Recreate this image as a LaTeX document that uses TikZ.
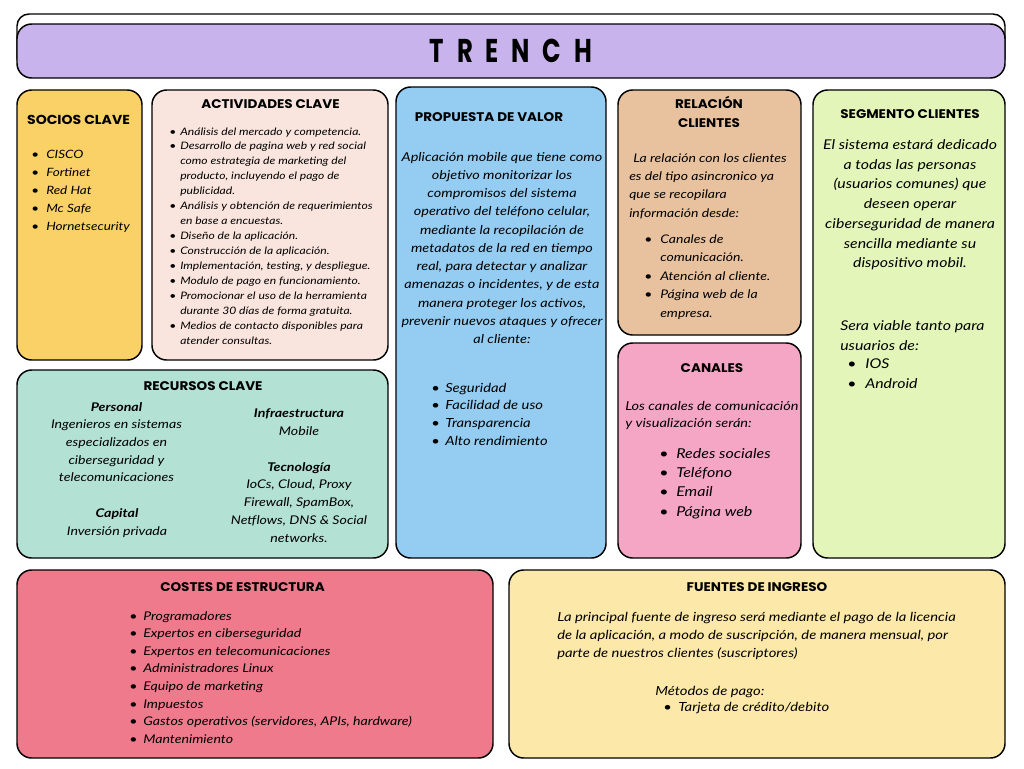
\documentclass[tikz,border=0pt]{standalone}
\usepackage{fontspec}
\usepackage{graphicx}
\setmainfont{Lato}[FakeStretch=1.18]
\newfontfamily\hfont{Poppins}[FakeStretch=1.08]
\newfontfamily\tfont{Poppins}
\definecolor{cpurple}{HTML}{C8B3EC}
\definecolor{csocios}{HTML}{F9D166}
\definecolor{cactiv}{HTML}{F9E5DE}
\definecolor{crecur}{HTML}{B3E1D3}
\definecolor{cprop}{HTML}{94CCF2}
\definecolor{crel}{HTML}{E8C29F}
\definecolor{ccan}{HTML}{F6A6C5}
\definecolor{cseg}{HTML}{E3F5B9}
\definecolor{ccost}{HTML}{EE7A8C}
\definecolor{cfuen}{HTML}{FCE8A8}
\newlength\bulw
\newcommand\mybul{\makebox[\bulw][l]{\textbullet}}
\newcommand\myind{\hspace*{\bulw}}
\newcommand\fsz[2]{\fontsize{#1}{#2}\selectfont}
\begin{document}
\begin{tikzpicture}[x=0.75pt,y=-0.75pt,
  box/.style={draw=black,line width=1.1pt,rounded corners=11pt},
  head/.style={inner sep=0pt,anchor=base,font=\hfont\bfseries\fsz{9.4pt}{14.3pt}},
  lst/.style={inner sep=0pt,anchor=base west},
  ctr/.style={inner sep=0pt,anchor=base}]
\useasboundingbox (0,0) rectangle (1024,768);
% title
\draw[box,fill=white,rounded corners=9pt] (17,14) rectangle (1005,70);
\draw[box,fill=cpurple] (17,24) rectangle (1005,78);
\node[inner sep=0pt,font=\tfont\bfseries\fsz{24.7pt}{25pt}] (title) at (511,51)
  {\scalebox{0.74}[1]{T\hspace{13pt}R\hspace{13pt}E\hspace{13pt}N\hspace{13pt}C\hspace{13pt}H}};
% boxes
\draw[box,fill=csocios] (17,90) rectangle (142,360);
\draw[box,fill=cactiv] (152,90) rectangle (388,360);
\draw[box,fill=crecur] (17,370) rectangle (388,558);
\draw[box,fill=cprop] (396,87) rectangle (606,558);
\draw[box,fill=crel] (618,90) rectangle (801,335);
\draw[box,fill=ccan] (618,343) rectangle (801,558);
\draw[box,fill=cseg] (813,90) rectangle (1005,558);
\draw[box,fill=ccost] (17,570) rectangle (493,758);
\draw[box,fill=cfuen] (509,570) rectangle (1005,758);
% socios
\node[head,font=\hfont\bfseries\fsz{9.75pt}{14pt}] (hsoc) at (78.5,124.5) {SOCIOS CLAVE};
\node[lst,font=\itshape\fsz{8.6pt}{13.5pt}\setlength\bulw{11.25pt}] (lsoc) at (31,158)
 {\begin{tabular}[t]{@{}l@{}}
 \mybul CISCO\\ \mybul Fortinet\\ \mybul Red Hat\\ \mybul Mc Safe\\ \mybul Hornetsecurity
 \end{tabular}};
% actividades
\node[head] (hact) at (270.5,108.5) {ACTIVIDADES CLAVE};
\node[lst,font=\itshape\fsz{7.7pt}{11.2pt}\setlength\bulw{8.25pt}] (lact) at (169,135)
 {\begin{tabular}[t]{@{}l@{}}
 \mybul Análisis del mercado y competencia.\\
 \mybul Desarrollo de pagina web y red social\\
 \myind como estrategia de marketing del\\
 \myind producto, incluyendo el pago de\\
 \myind publicidad.\\
 \mybul Análisis y obtención de requerimientos\\
 \myind en base a encuestas.\\
 \mybul Diseño de la aplicación.\\
 \mybul Construcción de la aplicación.\\
 \mybul Implementación, testing, y despliegue.\\
 \mybul Modulo de pago en funcionamiento.\\
 \mybul Promocionar el uso de la herramienta\\
 \myind durante 30 días de forma gratuita.\\
 \mybul Medios de contacto disponibles para\\
 \myind atender consultas.
 \end{tabular}};
% recursos
\node[head] (hrec) at (203,390) {RECURSOS CLAVE};
\node[ctr,font=\itshape\fsz{9pt}{13.3pt}] (rpers) at (116.5,411)
 {\begin{tabular}[t]{@{}c@{}}
 \textbf{Personal}\\ Ingenieros en sistemas\\ especializados en\\ ciberseguridad y\\ telecomunicaciones
 \end{tabular}};
\node[ctr,font=\itshape\fsz{9pt}{13.8pt}] (rcap) at (117,517.5)
 {\begin{tabular}[t]{@{}c@{}}\textbf{Capital}\\ Inversión privada\end{tabular}};
\node[ctr,font=\itshape\fsz{9pt}{13.5pt}] (rinf) at (299,417)
 {\begin{tabular}[t]{@{}c@{}}\textbf{Infraestructura}\\ Mobile\end{tabular}};
\node[ctr,font=\itshape\fsz{9pt}{13.4pt}] (rtec) at (299,471)
 {\begin{tabular}[t]{@{}c@{}}
 \textbf{Tecnología}\\ IoCs, Cloud, Proxy\\ Firewall, SpamBox,\\ Netflows, DNS \& Social\\ networks.
 \end{tabular}};
% propuesta
\node[head] (hprop) at (489,121) {PROPUESTA DE VALOR};
\node[ctr,font=\itshape\fsz{9.2pt}{13.7pt}] (pprop) at (502,161)
 {\begin{tabular}[t]{@{}c@{}}
 Aplicación mobile que tiene como\\
 objetivo monitorizar los\\
 compromisos del sistema\\
 operativo del teléfono celular,\\
 mediante la recopilación de\\
 metadatos de la red en tiempo\\
 real, para detectar y analizar\\
 amenazas o incidentes, y de esta\\
 manera proteger los activos,\\
 prevenir nuevos ataques y ofrecer\\
 al cliente:
 \end{tabular}};
\node[lst,font=\itshape\fsz{9.4pt}{13.3pt}\setlength\bulw{10.5pt}] (lprop) at (431,392)
 {\begin{tabular}[t]{@{}l@{}}
 \mybul Seguridad\\ \mybul Facilidad de uso\\ \mybul Transparencia\\ \mybul Alto rendimiento
 \end{tabular}};
% relacion
\node[ctr,font=\hfont\bfseries\fsz{9.4pt}{14.3pt}] (hrel) at (709,108.5)
 {\begin{tabular}[t]{@{}c@{}}RELACIÓN\\ CLIENTES\end{tabular}};
\node[lst,font=\itshape\fsz{8.9pt}{13.8pt}] (prel) at (629,162)
 {\begin{tabular}[t]{@{}l@{}}
 \hspace*{3pt}La relación con los clientes\\
 es del tipo asincronico ya\\
 que se recopilara\\
 información desde:
 \end{tabular}};
\node[lst,font=\itshape\fsz{8.9pt}{13.9pt}\setlength\bulw{12pt}] (lrel) at (644,243)
 {\begin{tabular}[t]{@{}l@{}}
 \mybul Canales de\\ \myind comunicación.\\ \mybul Atención al cliente.\\
 \mybul Página web de la\\ \myind empresa.
 \end{tabular}};
% canales
\node[head] (hcan) at (712,372.5) {CANALES};
\node[lst,font=\itshape\fsz{9.25pt}{12.8pt}] (pcan) at (625,410)
 {\begin{tabular}[t]{@{}l@{}}
 Los canales de comunicación\\ y visualización serán:
 \end{tabular}};
\node[lst,font=\itshape\fsz{10.2pt}{14.6pt}\setlength\bulw{12.75pt}] (lcan) at (659,458)
 {\begin{tabular}[t]{@{}l@{}}
 \mybul Redes sociales\\ \mybul Teléfono\\ \mybul Email\\ \mybul Página web
 \end{tabular}};
% segmento
\node[head] (hseg) at (910,118.5) {SEGMENTO CLIENTES};
\node[ctr,font=\itshape\fsz{10.1pt}{14.8pt}] (pseg) at (910,149.5)
 {\begin{tabular}[t]{@{}c@{}}
 El sistema estará dedicado\\
 a todas las personas\\
 (usuarios comunes) que\\
 deseen operar\\
 ciberseguridad de manera\\
 sencilla mediante su\\
 dispositivo mobil.
 \end{tabular}};
\node[lst,font=\itshape\fsz{10.1pt}{15pt}] (pseg2) at (840,330)
 {\begin{tabular}[t]{@{}l@{}}Sera viable tanto para\\ usuarios de:\end{tabular}};
\node[lst,font=\itshape\fsz{10.1pt}{15pt}\setlength\bulw{13.5pt}] (lseg) at (847,368)
 {\begin{tabular}[t]{@{}l@{}}\mybul IOS\\ \mybul Android\end{tabular}};
% costes
\node[head] (hcost) at (242.5,591.5) {COSTES DE ESTRUCTURA};
\node[lst,font=\itshape\fsz{9pt}{13.2pt}\setlength\bulw{10.5pt}] (lcost) at (129,620)
 {\begin{tabular}[t]{@{}l@{}}
 \mybul Programadores\\
 \mybul Expertos en ciberseguridad\\
 \mybul Expertos en telecomunicaciones\\
 \mybul Administradores Linux\\
 \mybul Equipo de marketing\\
 \mybul Impuestos\\
 \mybul Gastos operativos (servidores, APIs, hardware)\\
 \mybul Mantenimiento
 \end{tabular}};
% fuentes
\node[head] (hfuen) at (757,591.5) {FUENTES DE INGRESO};
\node[lst,font=\itshape\fsz{9.4pt}{13.5pt}] (pfuen) at (557,621)
 {\begin{tabular}[t]{@{}l@{}}
 La principal fuente de ingreso será mediante el pago de la licencia\\
 de la aplicación, a modo de suscripción, de manera mensual, por\\
 parte de nuestros clientes (suscriptores)
 \end{tabular}};
\node[lst,font=\itshape\fsz{9.4pt}{13.5pt}] (mfuen) at (655,695) {Métodos de pago:};
\node[lst,font=\itshape\fsz{9.4pt}{13.5pt}\setlength\bulw{11.25pt}] (lfuen) at (663,711)
 {\begin{tabular}[t]{@{}l@{}}\mybul Tarjeta de crédito/debito\end{tabular}};
\end{tikzpicture}
\end{document}
